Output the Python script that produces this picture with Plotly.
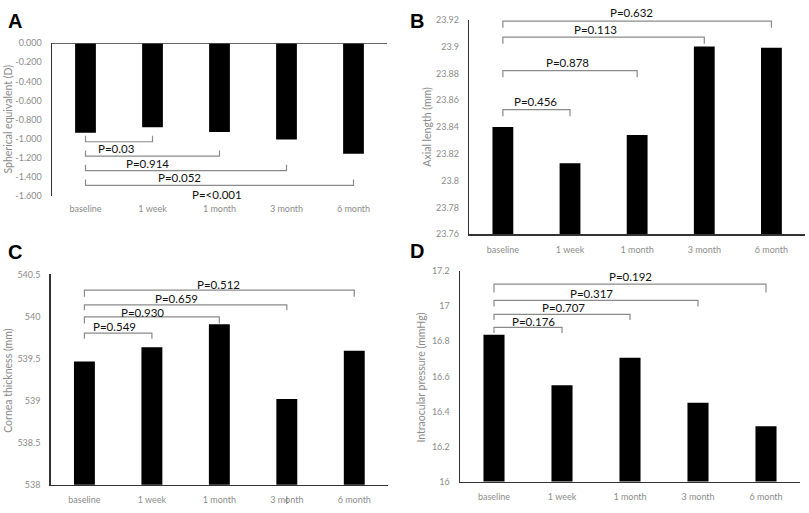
import plotly.graph_objects as go

categories = ["baseline", "1 week", "1 month", "3 month", "6 month"]

se_values = [-0.94, -0.88, -0.93, -1.01, -1.16]
al_values = [23.840, 23.813, 23.834, 23.900, 23.899]
ct_values = [539.465, 539.635, 539.907, 539.02, 539.593]
iop_values = [16.837, 16.549, 16.707, 16.45, 16.316]

se_pvalues = ["P=0.03", "P=0.914", "P=0.052", "P=<0.001"]
al_pvalues = ["P=0.456", "P=0.878", "P=0.113", "P=0.632"]
ct_pvalues = ["P=0.549", "P=0.930", "P=0.659", "P=0.512"]
iop_pvalues = ["P=0.176", "P=0.707", "P=0.317", "P=0.192"]

se_yticks = [0, -0.2, -0.4, -0.6, -0.8, -1.0, -1.2, -1.4, -1.6]
se_yticktext = ["0.000", "-0.200", "-0.400", "-0.600", "-0.800", "-1.000", "-1.200", "-1.400", "-1.600"]

# bracket geometry in data units (line level, tick end level, label level, label x index)
se_line = [-1.033, -1.183, -1.336, -1.49]
se_tick = [-0.971, -1.125, -1.275, -1.429]
se_lab = [-1.103, -1.262, -1.405, -1.587]
se_labx = [0.47, 0.93, 1.41, 1.96]

al_line = [23.853, 23.882, 23.907, 23.919]
al_tick = [23.848, 23.877, 23.902, 23.914]
al_lab = [23.859, 23.888, 23.913, 23.925]
al_labx = [0.49, 0.96, 1.385, 1.91]

ct_line = [539.802, 539.996, 540.139, 540.314]
ct_tick = [539.736, 539.918, 540.073, 540.236]
ct_lab = [539.887, 540.046, 540.216, 540.384]
ct_labx = [0.44, 0.86, 1.36, 1.99]

iop_line = [16.88, 16.954, 17.033, 17.126]
iop_tick = [16.847, 16.921, 16.999, 17.079]
iop_lab = [16.915, 16.992, 17.075, 17.168]
iop_labx = [0.58, 1.02, 1.44, 2.01]

se_range = [-1.6, 0]
al_range = [23.76, 23.92]
ct_range = [538, 540.5]
iop_range = [16, 17.2]

W, H = 809, 513
TICK_FONT = dict(family="Lato, Noto Sans, sans-serif", size=9, color="#8c8c8c")
P_FONT = dict(family="Lato, Noto Sans, sans-serif", size=11.5, color="#111111")
TITLE_FONT = dict(family="Lato, Noto Sans, sans-serif", size=10.5, color="#8a8a8a")
LETTER_FONT = dict(family="Liberation Sans, Arial, sans-serif", size=20, color="#000000")
AXIS_COLOR = "#333333"
BRACKET_COLOR = "#8a8a8a"

fig = go.Figure()

panels = [
    ("x", "y", se_values, se_range, se_line, se_tick, se_lab, se_labx, se_pvalues),
    ("x2", "y2", al_values, al_range, al_line, al_tick, al_lab, al_labx, al_pvalues),
    ("x3", "y3", ct_values, ct_range, ct_line, ct_tick, ct_lab, ct_labx, ct_pvalues),
    ("x4", "y4", iop_values, iop_range, iop_line, iop_tick, iop_lab, iop_labx, iop_pvalues),
]

annotations = []
for xa, ya, vals, rng, line, tick, lab, labx, pv in panels:
    fig.add_trace(go.Bar(x=categories, y=vals, xaxis=xa, yaxis=ya,
                         marker=dict(color="#000000", line=dict(width=0)),
                         showlegend=False, hoverinfo="x+y"))
    for j in range(4):
        target = categories[j + 1]
        fig.add_trace(go.Scatter(
            x=[categories[0], categories[0], target, target],
            y=[tick[j], line[j], line[j], tick[j]],
            xaxis=xa, yaxis=ya, mode="lines",
            line=dict(color=BRACKET_COLOR, width=1.2),
            showlegend=False, hoverinfo="skip", cliponaxis=False))
        # label placed in axis-domain units so it is visible even beyond the range
        yd = (lab[j] - rng[0]) / (rng[1] - rng[0])
        annotations.append(dict(x=labx[j], y=yd, xref=xa, yref=ya + " domain", text=pv[j],
                                showarrow=False, font=P_FONT,
                                xanchor="center", yanchor="middle"))

def px_x(v):
    return v / W

def px_y(v):
    return 1 - v / H

domains = {
    "A": ([52, 387], [38, 194]),
    "B": ([469.3, 805], [14, 233.3]),
    "C": ([50.7, 388], [274.3, 489.3]),
    "D": ([460, 800], [271, 486]),
}

def xaxis_cfg(dom, showline):
    return dict(domain=[px_x(dom[0]), px_x(dom[1])], type="category",
                categoryorder="array", categoryarray=categories,
                showline=showline, linecolor=AXIS_COLOR, linewidth=1.5,
                showgrid=False, zeroline=False, ticks="",
                tickfont=TICK_FONT, ticklabelstandoff=6, fixedrange=True)

def yaxis_cfg(dom, rng, anchor, **kw):
    d = dict(domain=[px_y(dom[1]), px_y(dom[0])], range=rng, anchor=anchor,
             showline=True, linecolor=AXIS_COLOR, linewidth=1.5,
             showgrid=False, zeroline=False, ticks="",
             tickfont=TICK_FONT, ticklabelstandoff=7, fixedrange=True)
    d.update(kw)
    return d

fig.update_layout(
    width=W, height=H,
    margin=dict(l=0, r=0, t=0, b=0),
    paper_bgcolor="white", plot_bgcolor="white",
    bargap=0.69,
    hovermode=False,
    xaxis=dict(xaxis_cfg(domains["A"][0], False), anchor="y"),
    yaxis=yaxis_cfg(domains["A"][1], se_range, "x",
                    tickvals=se_yticks, ticktext=se_yticktext),
    xaxis2=dict(xaxis_cfg(domains["B"][0], True), anchor="y2"),
    yaxis2=yaxis_cfg(domains["B"][1], al_range, "x2", dtick=0.02, tick0=23.76),
    xaxis3=dict(xaxis_cfg(domains["C"][0], True), anchor="y3"),
    yaxis3=yaxis_cfg(domains["C"][1], ct_range, "x3", dtick=0.5, tick0=538),
    xaxis4=dict(xaxis_cfg(domains["D"][0], True), anchor="y4"),
    yaxis4=yaxis_cfg(domains["D"][1], iop_range, "x4", dtick=0.2, tick0=16),
)

# zero (category) axis line of panel A at the top
fig.add_shape(type="line", xref="x domain", x0=0, x1=1, yref="y", y0=0, y1=0,
              line=dict(color=AXIS_COLOR, width=1.5))

# small stray mark below "3 month" in panel C
fig.add_shape(type="line", xref="x3", x0=3, x1=3, yref="paper",
              y0=px_y(509), y1=px_y(501), line=dict(color="#777777", width=1))

titles = [
    ("Spherical equivalent (D)", 8, 116),
    ("Axial length (mm)", 426.7, 123.6),
    ("Cornea thickness (mm)", 8, 383),
    ("Intraocular pressure (mmHg)", 420.7, 380),
]
for t, xp, yp in titles:
    annotations.append(dict(x=px_x(xp), y=px_y(yp), xref="paper", yref="paper",
                            text=t, textangle=-90, showarrow=False, font=TITLE_FONT,
                            xanchor="center", yanchor="middle"))

letters = [("A", 15, 15), ("B", 417, 15), ("C", 15, 251.5), ("D", 417, 250.7)]
for t, xp, yp in letters:
    annotations.append(dict(x=px_x(xp), y=px_y(yp), xref="paper", yref="paper",
                            text="<b>" + t + "</b>", showarrow=False, font=LETTER_FONT,
                            xanchor="center", yanchor="middle"))

fig.update_layout(annotations=annotations)

fig.write_html("out.html",
               config={"displayModeBar": False, "staticPlot": True},
               post_script="document.body.style.margin='0px';document.body.style.overflow='hidden';")
